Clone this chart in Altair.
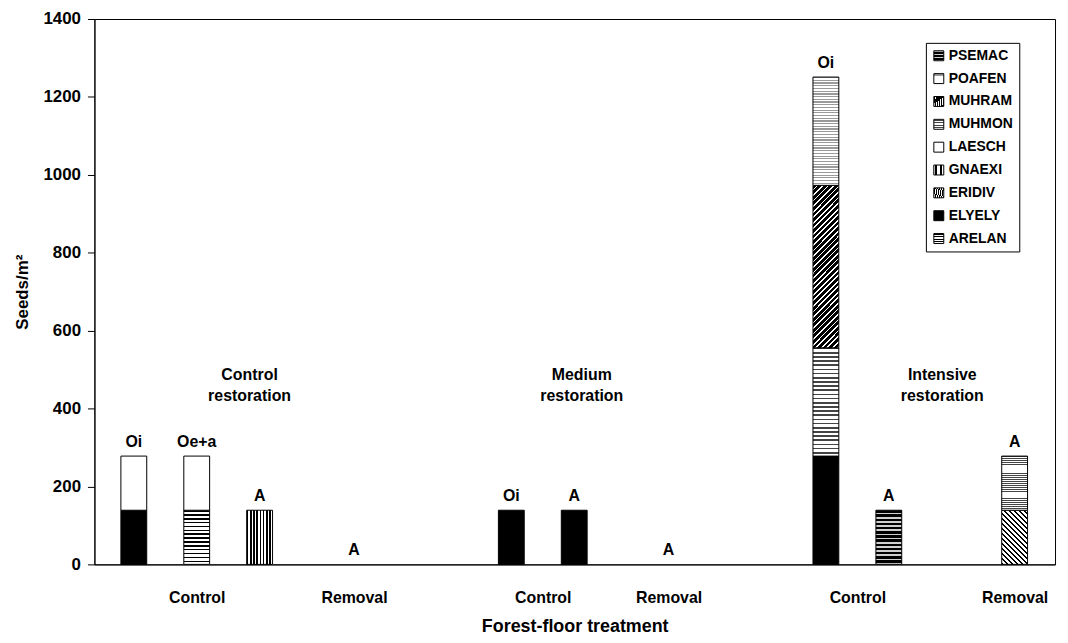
import altair as alt
import pandas as pd

# ---------------- data ----------------
species = ["ARELAN", "ELYELY", "ERIDIV", "GNAEXI", "LAESCH",
           "MUHMON", "MUHRAM", "POAFEN", "PSEMAC"]

# one entry per bar (soil layer within treatment)
bar_layers = ["Oi", "Oe+a", "A", "A", "Oi", "A", "A", "Oi", "A", "A"]
bar_slots = [0, 1, 2, 3.5, 6, 7, 8.5, 11, 12, 14]

ARELAN = [0, 139, 0, 0, 0, 0, 0, 0, 0, 0]
ELYELY = [139, 0, 0, 0, 139, 139, 0, 278, 0, 0]
ERIDIV = [0, 0, 0, 0, 0, 0, 0, 0, 0, 139]
GNAEXI = [0, 0, 139, 0, 0, 0, 0, 0, 0, 0]
LAESCH = [139, 139, 0, 0, 0, 0, 0, 0, 0, 0]
MUHMON = [0, 0, 0, 0, 0, 0, 0, 278, 0, 139]
MUHRAM = [0, 0, 0, 0, 0, 0, 0, 417, 0, 0]
POAFEN = [0, 0, 0, 0, 0, 0, 0, 278, 0, 0]
PSEMAC = [0, 0, 0, 0, 0, 0, 0, 0, 139, 0]

seeds = {"ARELAN": ARELAN, "ELYELY": ELYELY, "ERIDIV": ERIDIV, "GNAEXI": GNAEXI,
         "LAESCH": LAESCH, "MUHMON": MUHMON, "MUHRAM": MUHRAM, "POAFEN": POAFEN,
         "PSEMAC": PSEMAC}

treat_labels = ["Control", "Removal", "Control", "Removal", "Control", "Removal"]
treat_slots = [1, 3.5, 6.5, 8.5, 11.5, 14]

group_labels = ["Control\nrestoration", "Medium\nrestoration", "Intensive\nrestoration"]
group_slots = [1.84, 7.12, 12.85]
group_y = [487, 487, 487]

# ---------------- tables ----------------
rows = []
for rank, s in enumerate(species):
    for b, v in enumerate(seeds[s]):
        if v > 0:
            rows.append({"slot": bar_slots[b], "species": s, "rank": rank, "seeds": v})
bars_df = pd.DataFrame(rows)

totals = [sum(seeds[s][b] for s in species) for b in range(len(bar_slots))]
labels_df = pd.DataFrame({"slot": bar_slots, "total": totals, "layer": bar_layers})
groups_df = pd.DataFrame({"slot": group_slots, "y": group_y, "label": group_labels})


# ---------------- pattern-like fills ----------------
def stripes(x1, y1, x2, y2, n, c1, c2, frac):
    stops = []
    for i in range(n):
        a = i / n
        b = (i + frac) / n
        c = (i + 1) / n
        stops += [(a, c1), (b, c1), (b, c2), (c, c2)]
    s = ",".join("{offset:%.4f,color:'%s'}" % (o, col) for o, col in stops)
    return {"expr": "{gradient:'linear',x1:%s,y1:%s,x2:%s,y2:%s,stops:[%s]}" % (x1, y1, x2, y2, s)}


fills = {
    "PSEMAC": stripes(0, 0, 0, 1, 13, "#000000", "#cfcfcf", 0.62),
    "POAFEN": stripes(0, 0, 0, 1, 40, "#9a9a9a", "#ffffff", 0.45),
    "MUHRAM": stripes(0, 0, 0.181, 1.131, 34, "#000000", "#ffffff", 0.68),
    "MUHMON": stripes(0, 0, 0, 1, 26, "#444444", "#ffffff", 0.38),
    "LAESCH": "#ffffff",
    "GNAEXI": stripes(0, 0, 1, 0, 8, "#000000", "#ffffff", 0.5),
    "ERIDIV": stripes(0, 1, 0.577, -0.203, 16, "#000000", "#ffffff", 0.5),
    "ELYELY": "#000000",
    "ARELAN": stripes(0, 0, 0, 1, 14, "#000000", "#ffffff", 0.4),
}
legend_order = species[::-1]
fill_range = [fills[s] for s in legend_order]

FONT = "Liberation Sans"

x_scale = alt.Scale(domain=[-0.547, 14.563], nice=False, zero=False)
y_scale = alt.Scale(domain=[0, 1400], nice=False)

label_expr = " : ".join(
    "datum.value == %s ? '%s'" % (v, t) for v, t in zip(treat_slots, treat_labels)
) + " : ''"

bars = alt.Chart(bars_df).mark_bar(size=26, stroke="black", strokeWidth=1).encode(
    x=alt.X("slot:Q", scale=x_scale,
            axis=alt.Axis(values=treat_slots, labelExpr=label_expr, ticks=False, tickSize=0,
                          grid=False, labelPadding=25, labelFontSize=16, labelFontWeight="bold",
                          labelOverlap=False, labelFlush=False, labelBound=False,
                          title="Forest-floor treatment", titleFontSize=18, titleFontWeight="bold",
                          titlePadding=13)),
    y=alt.Y("seeds:Q", stack="zero", scale=y_scale,
            axis=alt.Axis(values=list(range(0, 1401, 200)), format="d", grid=False, tickSize=7,
                          labelPadding=7, labelFontSize=17, labelFontWeight="bold",
                          title="Seeds/m²", titleFontSize=17, titleFontWeight="bold",
                          titlePadding=12)),
    fill=alt.Fill("species:N", scale=alt.Scale(domain=legend_order, range=fill_range),
                  legend=alt.Legend(title=None, orient="none", legendX=837, legendY=24,
                                    strokeColor="black", padding=6, symbolType="square",
                                    symbolSize=100, symbolStrokeColor="black",
                                    symbolStrokeWidth=1, labelFontSize=14,
                                    labelFontWeight="bold", labelFont=FONT,
                                    labelColor="black", rowPadding=9, labelOffset=3)),
    order=alt.Order("rank:Q", sort="ascending"),
)

bar_text = alt.Chart(labels_df).mark_text(
    baseline="bottom", dy=-6, fontSize=16, fontWeight="bold", font=FONT, color="black"
).encode(
    x=alt.X("slot:Q", scale=x_scale),
    y=alt.Y("total:Q", scale=y_scale),
    text="layer:N",
)

group_text = alt.Chart(groups_df).mark_text(
    baseline="middle", align="center", lineBreak="\n", lineHeight=21,
    fontSize=16, fontWeight="bold", font=FONT, color="black"
).encode(
    x=alt.X("slot:Q", scale=x_scale),
    y=alt.Y("y:Q", scale=y_scale),
    text="label:N",
)

chart = alt.layer(bars, bar_text, group_text).properties(
    width=967, height=549,
    autosize=alt.AutoSizeParams(type="none"),
    padding={"left": 87, "top": 9, "right": 5, "bottom": 70},
    background="white",
).configure_view(
    stroke="black", strokeWidth=1
).configure_axis(
    labelFont=FONT, titleFont=FONT, labelColor="black", titleColor="black",
    domainColor="black", tickColor="black", domainWidth=1
)

chart.save("out.html", embed_options={"renderer": "svg", "actions": False})
